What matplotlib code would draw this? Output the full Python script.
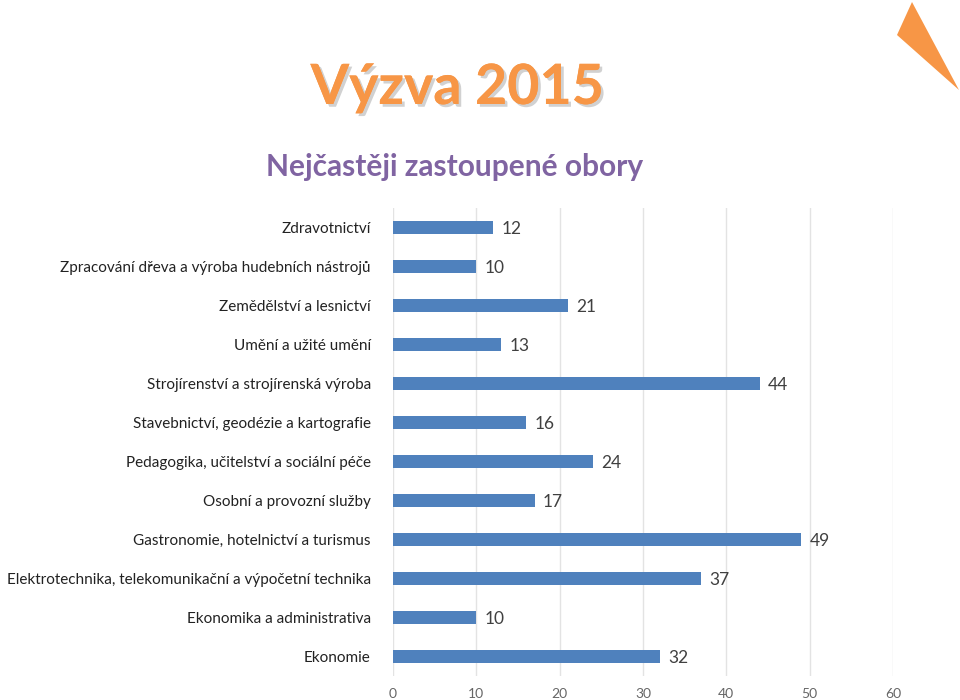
import matplotlib.pyplot as plt
import matplotlib.patheffects as pe
from matplotlib.patches import Polygon
import numpy as np

plt.rcParams['font.family'] = ['Lato', 'DejaVu Sans']

categories = [
    "Zdravotnictví",
    "Zpracování dřeva a výroba hudebních nástrojů",
    "Zemědělství a lesnictví",
    "Umění a užité umění",
    "Strojírenství a strojírenská výroba",
    "Stavebnictví, geodézie a kartografie",
    "Pedagogika, učitelství a sociální péče",
    "Osobní a provozní služby",
    "Gastronomie, hotelnictví a turismus",
    "Elektrotechnika, telekomunikační a výpočetní technika",
    "Ekonomika a administrativa",
    "Ekonomie",
]
values = [12, 10, 21, 13, 44, 16, 24, 17, 49, 37, 10, 32]
x_ticks = [0, 10, 20, 30, 40, 50, 60]

fig = plt.figure(figsize=(9.6, 7), dpi=100)
ax = fig.add_axes([393 / 960, 1 - 676 / 700, 500 / 960, 468 / 700])

y = np.arange(len(categories))
ax.barh(y, values, height=0.34, color='#4F81BD', zorder=3)
for yi, v in zip(y, values):
    ax.text(v + 1.0, yi + 0.05, str(v), va='center', ha='left',
            fontsize=12.5, color='#404040')

ax.set_xlim(0, 60)
ax.set_ylim(len(categories) - 0.5, -0.5)
ax.set_xticks(x_ticks)
ax.set_xticklabels([str(t) for t in x_ticks], fontsize=10, color='#666666')
ax.set_yticks(y)
ax.set_yticklabels(categories, fontsize=11, color='#222222')
ax.tick_params(axis='both', length=0)
ax.tick_params(axis='y', pad=16)
ax.tick_params(axis='x', pad=9)
ax.grid(axis='x', color='#E3E3E3', linewidth=1, zorder=0)
for s in ax.spines.values():
    s.set_visible(False)

fig.text(457 / 960, 1 - 88 / 700, "Výzva 2015", ha='center', va='center',
         fontsize=40, fontweight='bold', color='#F79646',
         path_effects=[pe.withSimplePatchShadow(offset=(2, -2), shadow_rgbFace='#9A9A9A', alpha=0.45),
                       pe.Normal()])
fig.text(455 / 960, 1 - 167 / 700, "Nejčastěji zastoupené obory", ha='center', va='center',
         fontsize=21.5, fontweight='bold', color='#8064A2')

tri = Polygon([(912 / 960, 1 - 2 / 700), (897 / 960, 1 - 35 / 700), (959 / 960, 1 - 90 / 700)],
              closed=True, transform=fig.transFigure, facecolor='#F79646', edgecolor='none')
fig.patches.append(tri)

fig.savefig("out.png", dpi=100)
